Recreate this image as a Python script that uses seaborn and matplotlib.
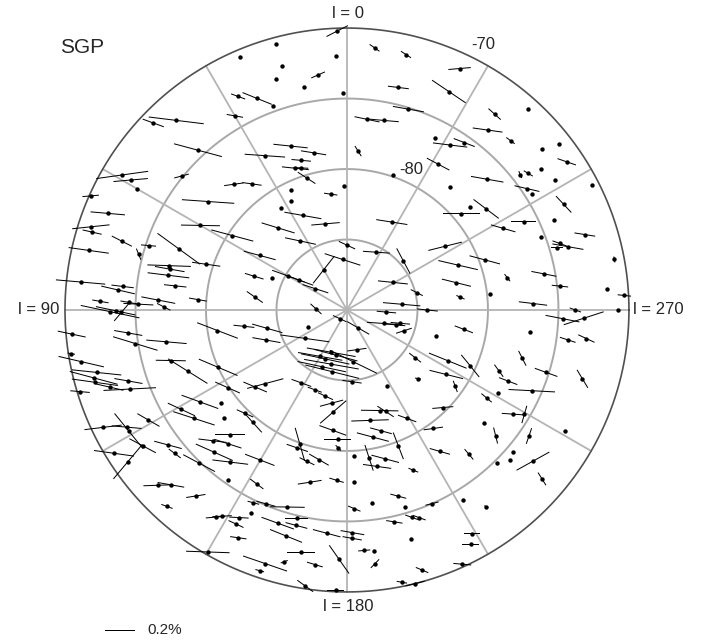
import numpy as np
import pandas as pd
import matplotlib
matplotlib.use('Agg')
import matplotlib.pyplot as plt
import seaborn as sns

sns.set_style('white')
plt.rcParams['font.family'] = ['Liberation Sans', 'DejaVu Sans']

# star positions (galactic l, b in deg), polarization P (%) and the angle of
# the polarization vector as drawn on the map (deg, counter-clockwise from horizontal)
gal_l = [23, 27, 30, 28, 42, 46, 43, 51, 42, 37, 52, 59, 59, 60, 66, 68,
         2, 15, 354, 347, 2.5, 15, 7, 17, 11, 347, 1, 23, 20, 343, 354, 349,
         333, 356, 19, 12, 17, 20, 18, 17, 1.4, 341, 25, 8, 27, 33, 25,
         335, 335, 318, 323, 322, 316, 308, 309.5, 328, 325, 304, 328, 306, 308,
         307, 313, 302, 297, 320, 304, 302, 296, 306, 310, 310,
         72, 73, 73, 77, 72, 75, 60, 57, 70, 72, 76, 77, 79, 82, 84, 84, 88,
         85, 88, 88.4, 87, 89, 86, 90.4, 90.2, 90.6, 99, 99, 95, 96, 99, 100,
         99, 101, 106, 111, 114, 104, 105, 106, 108, 108, 110, 107, 123, 122,
         126.5,
         14, 333, 40, 34, 0, 333, 5, 30, 311, 58, 60, 58, 56, 67, 70, 301, 284,
         82, 88, 276, 270, 267, 140, 212, 250, 253, 256, 250, 114, 103, 110.5,
         124, 194, 235, 159.5, 166, 150, 156, 164, 156, 166.6, 187, 184, 208,
         132, 130, 148, 158, 166, 226,
         297.6, 296.5, 293.5, 287.6, 290.7, 287.4, 286.5, 286, 303, 290, 292,
         280.7, 280.4, 281.4, 284, 276.4, 274.7, 273, 276.4, 276.4, 272, 270,
         270, 268, 267.7, 254, 260.6, 263.3, 262.3, 263.2, 254.6, 245.6, 243.3,
         237, 252.6, 248.2, 253.7, 246.2, 246.4, 241.2, 234.8, 237.8,
         115.7, 118, 119, 119, 124.7, 123.6, 121.6, 127, 129.8, 136, 121, 125.3,
         131.2, 135.4, 134.2, 138.3, 136.9, 137, 142.5, 145, 132.8, 134.8,
         140.9, 137.5, 147.6, 148.8, 152.5, 152.6, 154.7, 154.5, 150.1,
         170.6, 172.3, 140, 198, 200.8, 191.8, 209, 173.3, 176, 176.4, 195.7,
         191.5, 200.7, 182.6, 188.5, 194.4, 190.9, 202.5, 160.7, 160.2, 165.2,
         169.4, 149.8, 152.6, 167.8, 176.5, 182.4, 195.4, 187.3, 196.4, 203.7,
         157.3, 154.1, 163.2, 182.1, 166.4, 166.8, 162, 192.6, 197.3, 199.2,
         174.8, 181.4, 181.3, 164.9, 195.6, 184.1, 186.4, 169.3, 178.2, 162.1,
         166, 172.8, 186.3, 161.5, 196.1, 171.4, 177.7, 191.4, 194,
         224.5, 216.1, 237.9, 239.5, 230.3, 241.1, 229.8, 235.3, 213.3, 220.2,
         229.3, 227.5, 224.4, 230.9, 229.1, 211.5, 215.3, 209.2, 207.8, 204.4]

gal_b = [-70.5, -73.0, -74.1, -77.6, -71.9, -70.9, -74.5, -74.9, -78.0, -78.8,
         -77.5, -71.4, -72.1, -72.8, -70.1, -71.7,
         -70.2, -70.5, -71.3, -71.4, -72.0, -72.1, -73.2, -72.9, -73.9, -73.8,
         -74.6, -73.7, -74.6, -75.1, -76.4, -76.3, -76.3, -78.7, -77.7, -78.6,
         -78.9, -79.3, -79.4, -80.2, -81.2, -79.9, -80.6, -81.7, -81.3, -81.4,
         -82.6,
         -71.1, -72.9, -70.8, -72.6, -73.8, -73.3, -70.9, -72.1, -76.2, -75.5,
         -71.2, -77.8, -73.0, -74.4, -73.9, -76.4, -72.6, -70.5, -78.6, -74.6,
         -74.5, -72.9, -77.8, -78.6, -79.4,
         -70.9, -71.1, -73.3, -71.2, -75.2, -74.7, -78.0, -80.3, -77.3, -79.5,
         -77.0, -77.1, -77.1, -77.7, -71.0, -74.0, -72.5, -73.7, -74.5, -75.2,
         -76.6, -77.0, -79.4, -73.2, -73.6, -74.0, -80.7, -82.6, -70.4, -74.4,
         -74.8, -77.0, -70.2, -70.8, -77.0, -77.9, -80.0, -71.7, -71.4, -71.4,
         -72.3, -73.7, -73.6, -70.2, -79.9, -77.7, -78.9,
         -83.7, -83.0, -82.4, -84.1, -85.4, -85.4, -86.4, -86.7, -84.7, -82.7,
         -85.2, -86.0, -87.3, -84.2, -83.0, -86.2, -84.9, -83.4, -87.8, -86.1,
         -84.3, -87.2, -89.2, -88.5, -87.2, -86.4, -86.1, -85.7, -87.0, -84.2,
         -83.9, -86.4, -87.1, -84.1, -86.8, -86.7, -86.2, -86.2, -86.0, -85.6,
         -85.5, -86.3, -84.9, -83.9, -82.2, -81.5, -83.9, -83.9, -83.7, -83.0,
         -77.5, -76.0, -74.0, -72.3, -75.3, -74.2, -74.5, -73.7, -81.7, -79.6,
         -81.5, -70.7, -75.8, -78.4, -82.0, -74.8, -71.5, -70.3, -79.8, -81.9,
         -76.8, -70.8, -73.8, -73.2, -74.7, -83.4, -81.6, -76.9, -74.2, -72.9,
         -77.1, -80.4, -82.0, -81.6, -75.2, -78.4, -72.6, -77.5, -75.7, -77.8,
         -80.6, -78.3,
         -70.8, -72.3, -72.3, -73.9, -71.1, -72.6, -70.6, -74.1, -74.1, -74.9,
         -76.3, -76.7, -78.4, -79.7, -76.7, -77.3, -77.9, -76.2, -76.4, -75.3,
         -71.7, -72.4, -73.0, -71.1, -72.6, -72.9, -73.4, -72.9, -74.1, -72.1,
         -70.2,
         -83.3, -82.7, -79.6, -82.5, -82.3, -82.0, -81.2, -81.4, -80.8, -80.2,
         -81.1, -80.8, -79.7, -79.6, -79.4, -79.1, -78.7, -77.7, -79.9, -79.6,
         -78.9, -79.2, -77.7, -76.1, -77.5, -77.9, -77.8, -76.3, -76.2, -75.4,
         -75.0, -75.1, -74.8, -75.4, -75.9, -74.8, -74.3, -74.1, -74.6, -74.6,
         -74.4, -74.1, -74.2, -73.8, -73.4, -73.1, -72.9, -72.8, -72.5, -72.3,
         -71.1, -71.6, -71.8, -71.9, -70.5, -70.8, -70.2, -70.1, -70.3, -70.0,
         -80.3, -79.6, -76.1, -75.4, -77.4, -72.3, -76.2, -74.3, -78.0, -76.6,
         -74.5, -74.3, -74.8, -73.0, -71.7, -74.2, -72.9, -71.8, -71.2, -70.2]

pol = [0, 0.10, 0.11, 0.27, 0.37, 0.15, 0.33, 0.10, 0.13, 0.13, 0.35, 0.35,
       0.23, 0, 0.11, 0.23,
       0.16, 0, 0.08, 0.08, 0, 0, 0.10, 0, 0, 0.14, 0, 0.21, 0, 0.21, 0.17,
       0.20, 0, 0.08, 0.23, 0.17, 0.13, 0.18, 0.10, 0.14, 0, 0, 0, 0.09, 0,
       0, 0.25,
       0.15, 0.27, 0, 0.11, 0.20, 0.07, 0, 0, 0.23, 0.15, 0.13, 0.17, 0, 0.05,
       0.07, 0.22, 0, 0, 0, 0.17, 0, 0.15, 0.21, 0, 0.25,
       0.25, 0.13, 0.15, 0.27, 0.10, 0.08, 0.26, 0.29, 0.35, 0.19, 0.29, 0.20,
       0.28, 0.15, 0.33, 0.15, 0.11, 0.23, 0.11, 0.20, 0.23, 0.10, 0.12, 0.40,
       0.27, 0.15, 0.29, 0.14, 0.19, 0.19, 0.31, 0.27, 0.05, 0.31, 0.20, 0.31,
       0.28, 0.33, 0.33, 0.31, 0.19, 0.19, 0.35, 0.13, 0.18, 0.26, 0,
       0.19, 0.21, 0.23, 0.21, 0.12, 0.18, 0.25, 0.23, 0.19, 0.22, 0.23, 0.20,
       0.18, 0, 0.13, 0.20, 0.09, 0.13, 0.10, 0.25, 0.14, 0.13, 0.10, 0.17,
       0.23, 0.13, 0.13, 0.11, 0, 0.21, 0.19, 0.33, 0.13, 0.10, 0.33, 0.30,
       0.30, 0.33, 0.37, 0.33, 0.37, 0.35, 0.13, 0, 0.25, 0.17, 0.14, 0.10,
       0.11, 0.04,
       0.17, 0.17, 0, 0.14, 0, 0.10, 0.08, 0.21, 0.23, 0.21, 0.27, 0.04, 0.17,
       0.06, 0.20, 0.11, 0, 0.09, 0, 0.06, 0.19, 0, 0.08, 0.28, 0.23, 0, 0.13,
       0, 0.11, 0.12, 0.11, 0.19, 0.27, 0.23, 0.16, 0.10, 0.14, 0.13, 0.31, 0,
       0.08, 0.09,
       0.25, 0.20, 0.30, 0.17, 0.30, 0.20, 0.27, 0.19, 0.10, 0.24, 0.20, 0.29,
       0, 0.12, 0.19, 0.19, 0.20, 0.27, 0.24, 0, 0.19, 0.18, 0.13, 0.08, 0.13,
       0.13, 0.13, 0.11, 0, 0.11, 0.29,
       0.16, 0.23, 0.18, 0.25, 0.13, 0.25, 0.13, 0.19, 0.18, 0.05, 0.15, 0.22,
       0.19, 0, 0.18, 0.19, 0.19, 0.07, 0.23, 0.15, 0.11, 0.15, 0.21, 0.11,
       0.16, 0.10, 0, 0.11, 0, 0, 0.09, 0.13, 0.08, 0.23, 0.09, 0.15, 0.15,
       0.23, 0.11, 0.09, 0.09, 0.19, 0.16, 0.13, 0.23, 0, 0.08, 0, 0.19, 0.23,
       0.31, 0.05, 0.11, 0.08, 0.06, 0.09, 0.13, 0.11, 0.07, 0.13,
       0.14, 0.13, 0.15, 0.12, 0, 0, 0.11, 0.11, 0.14, 0.09, 0, 0, 0, 0.25,
       0.10, 0, 0.03, 0.11, 0.11, 0.12]

pol_angle = [0, -20, -10, -4, -7, -20, -15, 15, 8, -8, -4, 8, 5, 0, 5, -5,
             27, 0, -35, -33, 0, 0, 24, 0, 0, -7, 0, -22, 0, -10, -12, -5,
             0, -58, -6, -9, -5, -6, -3, -33, 0, 0, 0, -8, 0, 0, -10,
             5, -34, 0, -42, -8, -37, 0, 0, -7, -21, -19, -28, 0, -66, -31,
             -10, 0, 0, 0, -13, 0, -47, -37, 0, 0,
             6, -13, -27, -8, -5, -68, -1, -15, -36, -8, -2, -10, -7, -6, -5,
             -7, -10, -13, -10, -3, -11, -27, -10, -12, -12, 50, -21, -6, -12,
             -10, -17, -5, -10, -13, -1, -32, -23, -6, -15, -8, -13, -10, 3, -5,
             -24, -20, 0,
             5, -9, -17, -12, -25, -4, -18, 52, -62, -15, -20, -20, -18, 0, -17,
             -6, -27, -35, -43, -5, -6, -5, -25, -30, -4, -5, -5, 18, 0, -16,
             -10, -8, 8, -38, -10, -15, -10, -12, -10, -12, -14, -26, -8, 0, 15,
             -23, -20, -20, -25, -10,
             -16, 0, 0, -9, 0, -20, 0, -10, 14, -15, -13, -80, -11, -52, -14,
             -6, 0, -6, 0, -24, -7, 0, -20, 18, -11, 0, -21, 0, -18, -25, -63,
             -51, -22, -14, -20, -54, -59, -21, -3, 0, -70, -40,
             7, -5, -51, -30, 50, -28, -8, -15, -37, -28, -25, -18, 0, -24, -7,
             -18, 0, -24, -7, 0, 2, -10, 9, -20, 5, 3, -3, -25, 0, -8, -2,
             15, 41, -48, -1, -33, 2, -20, -20, 0, -45, -15, -15, -69, 0, -72,
             -15, -8, -22, -74, -19, -26, -30, -21, -37, 9, -17, 0, -15, 0, 0,
             14, -15, -15, -1, -23, 0, -15, -20, -9, -20, -20, -15, -10, -10,
             -22, 0, 5, 0, 0, -55, -19, 20, -17, 46, -15, -23, -36, 0, -10, 14,
             5, 8, -4, 74, 0, 0, -76, 71, -16, -50, 0, 0, 0, 29, -58, 0, -30,
             0, 0, -5]

ring_b = [-85, -80, -75, -70]
spoke_l = list(range(0, 360, 30))
deg_per_pct = 10.64     # length on the map (deg) of a 1% vector


def to_map(l_deg, b_deg):
    r = 90 + np.asarray(b_deg, dtype=float)
    l_rad = np.radians(np.asarray(l_deg, dtype=float))
    return -r * np.sin(l_rad), r * np.cos(l_rad)


def main():
    df = pd.DataFrame({'l': gal_l, 'b': gal_b, 'P': pol, 'ang': pol_angle})
    df['x'], df['y'] = to_map(df['l'], df['b'])
    vec = df[df['P'] > 0]

    fig = plt.figure(figsize=(7.01, 6.41), dpi=100)
    ax = fig.add_axes([0, 0, 1, 1])
    ax.set_xlim(-24.61, 25.11)
    ax.set_ylim(-23.48, 21.99)
    ax.axis('off')

    t = np.linspace(0, 2 * np.pi, 721)
    for b in ring_b:
        r = 90 + b
        outer = b == ring_b[-1]
        ax.plot(r * np.cos(t), r * np.sin(t),
                color='#505050' if outer else '#a8a8a8',
                lw=1.2 if outer else 1.4, zorder=2 if outer else 1)
    r_max = 90 + ring_b[-1]
    for l in spoke_l:
        sx, sy = to_map([l, l], [-90, ring_b[-1]])
        ax.plot(sx, sy, color='#b4b4b4', lw=1.3, zorder=1)

    ang = np.radians(vec['ang'])
    q = ax.quiver(vec['x'], vec['y'], vec['P'] * np.cos(ang),
                  vec['P'] * np.sin(ang), angles='xy', scale_units='xy',
                  scale=1 / deg_per_pct, pivot='middle', units='dots',
                  width=1.0, headwidth=0, headlength=0, headaxislength=0,
                  color='black', zorder=3)
    sns.scatterplot(data=df, x='x', y='y', s=10, color='black',
                    linewidth=0, legend=False, ax=ax, zorder=4)
    ax.set_xlabel('')
    ax.set_ylabel('')

    # key arrow ends at X for labelpos 'E'
    ax.quiverkey(q, -15.04, -22.7, 0.2, '0.2%', labelpos='E',
                 coordinates='data', labelsep=0.12,
                 fontproperties={'size': 11})

    fs = 12
    ax.text(0.1, r_max + 1.0, 'l = 0', ha='center', va='center', fontsize=fs)
    ax.text(0.1, -r_max - 1.0, 'l = 180', ha='center', va='center', fontsize=fs)
    ax.text(-r_max - 0.4, 0, 'l = 90', ha='right', va='center', fontsize=fs)
    ax.text(r_max + 0.3, 0, 'l = 270', ha='left', va='center', fontsize=fs)
    ax.text(9.65, 18.8, '-70', ha='center', va='center', fontsize=fs)
    ax.text(4.55, 10.0, '-80', ha='center', va='center', fontsize=fs)
    ax.text(-20.35, 18.65, 'SGP', ha='left', va='center', fontsize=15)

    fig.savefig('out.png', dpi=100, facecolor='white')


if __name__ == '__main__':
    main()
